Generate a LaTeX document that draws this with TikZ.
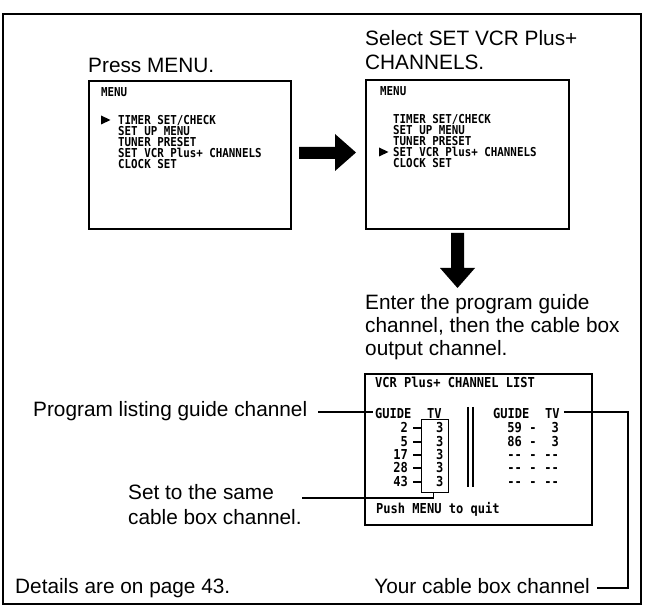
\documentclass[tikz,border=0pt]{standalone}
\usepackage{fontspec}
\setmainfont{Liberation Sans}
\newfontfamily\scrfont[FakeStretch=0.88]{DejaVu Sans Mono}
\begin{document}
\begin{tikzpicture}[x=1pt,y=-1pt,
 big/.style={inner sep=0pt, anchor=base west, font=\fontsize{20.8}{24}\selectfont},
 scrm/.style={inner sep=0pt, anchor=base west, font=\scrfont\bfseries\fontsize{12.3}{13}\selectfont},
 scrl/.style={inner sep=0pt, anchor=base west, font=\scrfont\bfseries\fontsize{13.7}{14}\selectfont},
 scrlr/.style={scrl, anchor=base east},
 screen/.style={draw, line width=1.6pt, inner sep=0pt, anchor=north west},
 conn/.style={line width=1.3pt}
]
\useasboundingbox (0,0) rectangle (646,609);
\draw[line width=1.8pt] (3,14) rectangle (641,604);

% titles
\node[big] (press) at (88,73) {Press MENU.};
\node[big] (sel1) at (365,46) {Select SET VCR Plus+};
\node[big] (sel2) at (365,70) {CHANNELS.};

% left menu screen
\node[screen, minimum width=202pt, minimum height=148pt] (menuL) at (88,80) {};
\node[scrm] (mlT) at (101,96.5) {MENU};
\node[scrm] (ml1) at (118,124.5) {TIMER SET/CHECK};
\node[scrm] (ml2) at (118,135.5) {SET UP MENU};
\node[scrm] (ml3) at (118,146.5) {TUNER PRESET};
\node[scrm] (ml4) at (118,157.5) {SET VCR Plus+ CHANNELS};
\node[scrm] (ml5) at (118,168.5) {CLOCK SET};
\fill (101,115.5) -- (110.5,120) -- (101,124.5) -- cycle;

% right menu screen
\node[screen, minimum width=203pt, minimum height=149pt] (menuR) at (365,79) {};
\node[scrm] (mrT) at (380,95.5) {MENU};
\node[scrm] (mr1) at (393,123.5) {TIMER SET/CHECK};
\node[scrm] (mr2) at (393,134.5) {SET UP MENU};
\node[scrm] (mr3) at (393,145.5) {TUNER PRESET};
\node[scrm] (mr4) at (393,156.5) {SET VCR Plus+ CHANNELS};
\node[scrm] (mr5) at (393,167.5) {CLOCK SET};
\fill (379,147.5) -- (388.5,152) -- (379,156.5) -- cycle;

% block arrows
\fill (299,147) -- (335,147) -- (335,134) -- (356,152.5) -- (335,171) -- (335,159) -- (299,159) -- cycle;
\fill (451,233) -- (464,233) -- (464,268) -- (475,268) -- (457.5,288) -- (440,268) -- (451,268) -- cycle;

% instructions
\node[big] (ent1) at (365,310) {Enter the program guide};
\node[big] (ent2) at (365,333) {channel, then the cable box};
\node[big] (ent3) at (365,356) {output channel.};

% channel list screen
\node[screen, minimum width=227pt, minimum height=151pt] (list) at (364,373) {};
\node[scrl] (vcr) at (375,388) {VCR Plus+ CHANNEL LIST};
\node[scrl] (guideL) at (375,419) {GUIDE};
\node[scrl] (tvL) at (427,419) {TV};
\foreach \n/\yy in {2/433,5/447,17/460,28/473,43/487}{
  \node[scrlr] at (408,\yy) {\n};
  \node[scrlr] at (443.5,\yy) {3};
  \draw[conn] (413,\yy-5) -- (421,\yy-5);
}
\node[draw, line width=1.4pt, inner sep=0pt, minimum width=27pt, minimum height=73pt, anchor=north west] (inner) at (421,419) {};
\draw[line width=1.8pt] (468,407) -- (468,487);
\draw[line width=1.8pt] (473,407) -- (473,487);
\node[scrl] (guideR) at (493,419) {GUIDE};
\node[scrl] (tvR) at (545,419) {TV};
\foreach \a/\b/\yy in {59/3/433,86/3/447}{
  \node[scrlr] at (522,\yy) {\a};
  \node[scrl, anchor=base] at (533,\yy) {-};
  \node[scrlr] at (559,\yy) {\b};
}
\foreach \yy in {460,473,487}{
  \node[scrlr] at (522,\yy) {-\kern0pt-};
  \node[scrl, anchor=base] at (533,\yy) {-};
  \node[scrlr] at (559,\yy) {-\kern0pt-};
}
\node[scrl] (push) at (376,514) {Push MENU to quit};

% callouts
\node[big] (prog) at (33,417) {Program listing guide channel};
\node[big] (set1) at (128,500) {Set to the same};
\node[big] (set2) at (128,525) {cable box channel.};
\node[big] (det) at (15,594) {Details are on page 43.};
\node[big, anchor=base east] (your) at (590,594) {Your cable box channel};

\coordinate (pc) at (318,412);
\draw[conn] (pc) -- ([xshift=-2pt]guideL.west |- pc);
\coordinate (rc) at (628,412);
\coordinate (rb) at (628,588);
\draw[conn] ([xshift=4pt]tvR.east |- rc) -- (rc) -- (rb) -- ([xshift=7pt]your.east |- rb);
\coordinate (sc) at (302,498);
\draw[conn] (sc) -- ([xshift=-2pt]inner.south |- sc) -- ([xshift=-2pt]inner.south);
\end{tikzpicture}
\end{document}
